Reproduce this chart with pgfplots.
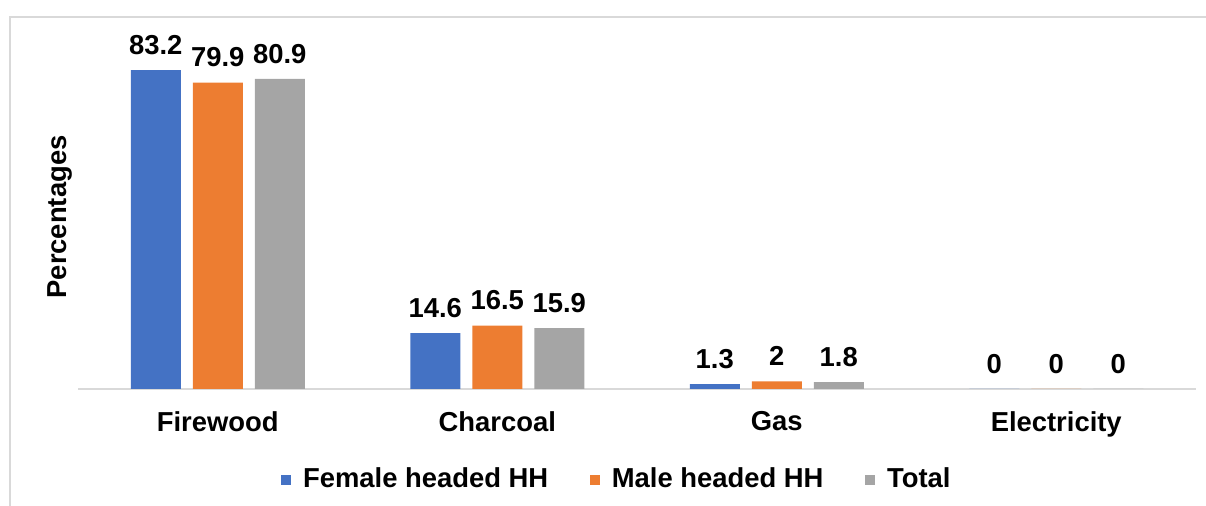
\documentclass[border=0pt]{standalone}
\usepackage{pgfplots}
\pgfplotsset{compat=1.18}
\usepackage{fontspec}
\setmainfont{Liberation Sans}
\definecolor{cblue}{HTML}{4472C4}
\definecolor{corange}{HTML}{ED7D31}
\definecolor{cgray}{HTML}{A5A5A5}
\definecolor{framegray}{HTML}{D9D9D9}
\begin{document}
\fontsize{13.7}{16}\selectfont\bfseries
\begin{tikzpicture}
\path[use as bounding box] (0pt,0pt) rectangle (603pt,253pt);
\draw[line width=1pt, color=framegray] (5pt,0pt) -- (5pt,244.25pt) -- (603pt,244.25pt);
\node[rotate=90, font=\fontsize{13.7}{16}\selectfont\bfseries] at (30pt,144.5pt) {Percentages};
\begin{axis}[
  at={(39pt,58.5pt)}, anchor=south west,
  width=559pt, height=172.5pt, scale only axis,
  xmin=-0.5, xmax=3.5, ymin=0, ymax=90,
  enlargelimits=false, clip=false,
  ybar=6pt, bar width=25pt,
  axis x line*=bottom, axis y line*=left,
  y axis line style={draw=none},
  x axis line style={draw=framegray, line width=1pt},
  ytick=\empty,
  xtick={0,1,2,3},
  xticklabels={Firewood,Charcoal,Gas,Electricity},
  major tick length=0pt,
  xticklabel style={font=\fontsize{13.7}{16}\selectfont\bfseries, yshift=-6.5pt},
  /pgf/number format/assume math mode=true,
  nodes near coords,
  every node near coord/.append style={font=\fontsize{13.7}{16}\selectfont\bfseries, text=black, yshift=3pt},
  legend style={at={(0.483,-0.264)}, anchor=center, draw=none, fill=none,
    legend columns=3, font=\fontsize{13.7}{16}\selectfont\bfseries,
    /tikz/every odd column/.append style={column sep=4pt},
    /tikz/every even column/.append style={column sep=19pt},
    legend cell align=left},
  legend image code/.code={\path[#1, draw=none] (0pt,-2.4pt) rectangle (4.8pt,2.4pt);},
]
\addplot[fill=cblue, draw=none] coordinates {(0,83.2) (1,14.6) (2,1.3) (3,0)};
\addplot[fill=corange, draw=none] coordinates {(0,79.9) (1,16.5) (2,2) (3,0)};
\addplot[fill=cgray, draw=none] coordinates {(0,80.9) (1,15.9) (2,1.8) (3,0)};
\legend{Female headed HH, Male headed HH, Total}
\end{axis}
\end{tikzpicture}
\end{document}
